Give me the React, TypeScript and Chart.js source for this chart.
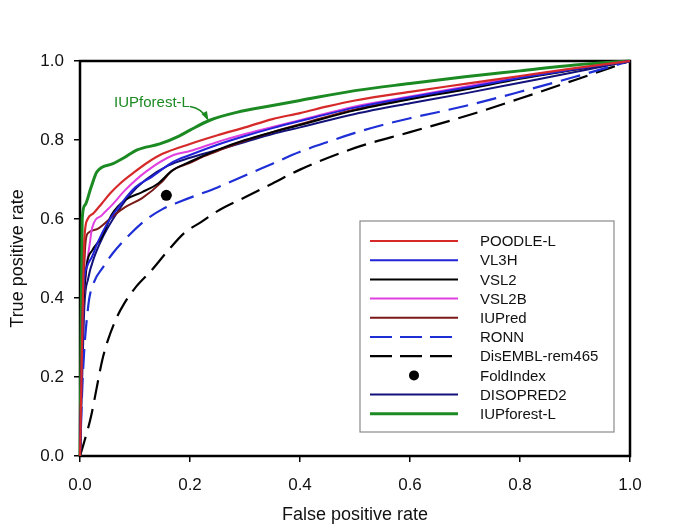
import React, { useEffect, useRef } from 'react';
import { Chart, registerables } from 'chart.js';
Chart.register(...registerables);

const X_TICKS = [0, 0.2, 0.4, 0.6, 0.8, 1.0];
const Y_TICKS = [0, 0.2, 0.4, 0.6, 0.8, 1.0];
const X_TITLE = 'False positive rate';
const Y_TITLE = 'True positive rate';
const ANNOTATION = 'IUPforest-L';

const SERIES_NAMES = ['POODLE-L', 'VL3H', 'VSL2', 'VSL2B', 'IUPred', 'RONN', 'DisEMBL-rem465', 'FoldIndex', 'DISOPRED2', 'IUPforest-L'];

const POODLE_L = [[0,0],[0.004,0.3],[0.008,0.55],[0.014,0.6],[0.025,0.615],[0.04,0.64],[0.055,0.665],[0.073,0.69],[0.1,0.72],[0.125,0.745],[0.15,0.765],[0.2,0.79],[0.25,0.812],[0.3,0.832],[0.35,0.853],[0.4,0.868],[0.45,0.885],[0.5,0.9],[0.6,0.922],[0.7,0.942],[0.8,0.962],[0.9,0.982],[1,1]];
const VL3H = [[0,0],[0.003,0.2],[0.006,0.41],[0.013,0.48],[0.022,0.505],[0.032,0.54],[0.05,0.59],[0.07,0.63],[0.1,0.68],[0.13,0.706],[0.17,0.745],[0.2,0.762],[0.25,0.788],[0.3,0.81],[0.35,0.83],[0.4,0.848],[0.5,0.882],[0.6,0.908],[0.7,0.932],[0.8,0.957],[0.9,0.979],[1,1]];
const VSL2 = [[0,0],[0.004,0.3],[0.012,0.48],[0.022,0.52],[0.04,0.555],[0.058,0.612],[0.082,0.648],[0.113,0.668],[0.142,0.69],[0.167,0.722],[0.2,0.745],[0.25,0.775],[0.3,0.8],[0.35,0.82],[0.4,0.838],[0.5,0.875],[0.6,0.903],[0.7,0.928],[0.8,0.955],[0.9,0.978],[1,1]];
const VSL2B = [[0,0],[0.004,0.3],[0.01,0.45],[0.018,0.54],[0.022,0.577],[0.04,0.61],[0.058,0.635],[0.082,0.673],[0.12,0.72],[0.17,0.762],[0.2,0.772],[0.25,0.795],[0.3,0.815],[0.35,0.833],[0.4,0.85],[0.5,0.885],[0.6,0.91],[0.7,0.935],[0.8,0.96],[0.9,0.98],[1,1]];
const IUPRED = [[0,0],[0.004,0.3],[0.01,0.54],[0.015,0.565],[0.032,0.575],[0.058,0.605],[0.082,0.63],[0.113,0.653],[0.149,0.694],[0.167,0.722],[0.2,0.742],[0.222,0.757],[0.25,0.772],[0.3,0.798],[0.35,0.82],[0.4,0.84],[0.5,0.877],[0.6,0.905],[0.7,0.931],[0.8,0.957],[0.9,0.979],[1,1]];
const RONN = [[0,0],[0.005,0.2],[0.015,0.38],[0.024,0.435],[0.042,0.478],[0.06,0.514],[0.09,0.56],[0.12,0.598],[0.15,0.625],[0.18,0.643],[0.25,0.68],[0.3,0.71],[0.35,0.74],[0.4,0.77],[0.45,0.795],[0.5,0.818],[0.55,0.838],[0.6,0.855],[0.7,0.886],[0.8,0.922],[0.9,0.96],[1,1]];
const DISEMBL = [[0,0],[0.005,0.023],[0.02,0.1],[0.03,0.17],[0.04,0.24],[0.05,0.29],[0.065,0.345],[0.08,0.385],[0.1,0.425],[0.13,0.47],[0.16,0.52],[0.19,0.565],[0.22,0.592],[0.25,0.62],[0.3,0.655],[0.35,0.69],[0.4,0.725],[0.5,0.78],[0.6,0.82],[0.7,0.86],[0.8,0.905],[0.9,0.952],[1,1]];
const FOLDINDEX = [[0.157,0.66]];
const DISOPRED2 = [[0,0],[0.004,0.2],[0.008,0.38],[0.015,0.45],[0.025,0.5],[0.04,0.55],[0.06,0.6],[0.09,0.66],[0.12,0.7],[0.16,0.735],[0.2,0.755],[0.25,0.775],[0.3,0.795],[0.35,0.815],[0.4,0.832],[0.5,0.866],[0.6,0.893],[0.7,0.918],[0.8,0.945],[0.9,0.972],[1,1]];
const IUPFOREST_L = [[0,0],[0.002,0.3],[0.004,0.6],[0.009,0.635],[0.02,0.68],[0.031,0.72],[0.06,0.74],[0.08,0.755],[0.104,0.775],[0.145,0.79],[0.18,0.81],[0.2,0.825],[0.236,0.85],[0.285,0.87],[0.345,0.886],[0.4,0.9],[0.5,0.925],[0.6,0.943],[0.7,0.96],[0.8,0.975],[0.9,0.99],[1,1]];

const SERIES_DATA = [POODLE_L, VL3H, VSL2, VSL2B, IUPRED, RONN, DISEMBL, FOLDINDEX, DISOPRED2, IUPFOREST_L];

const FONT = "'Liberation Sans', Arial, sans-serif";
const STYLES = [
  { color: '#d62a2a', width: 2.2, dash: [] },
  { color: '#2222d8', width: 2, dash: [] },
  { color: '#000000', width: 2, dash: [] },
  { color: '#e040e0', width: 2, dash: [] },
  { color: '#7a1818', width: 2, dash: [] },
  { color: '#1f2fd6', width: 2.2, dash: [20, 9] },
  { color: '#000000', width: 2.2, dash: [20, 9] },
  { color: '#000000', width: 0, dash: [], point: true },
  { color: '#12127a', width: 2, dash: [] },
  { color: '#1c8a22', width: 3, dash: [] },
];

const frameAndLegend = {
  id: 'frameAndLegend',
  beforeDatasetsDraw(chart: any) {
    const { ctx, chartArea: a } = chart;
    ctx.save();
    ctx.strokeStyle = '#000';
    ctx.lineWidth = 2.5;
    ctx.strokeRect(a.left, a.top, a.right - a.left, a.bottom - a.top);
    ctx.restore();
  },
  afterDatasetsDraw(chart: any) {
    const { ctx } = chart;
    const xs = chart.scales.x;
    const ys = chart.scales.y;
    ctx.save();
    const bx = 360, by = 221, bw = 254, bh = 211;
    ctx.fillStyle = '#fff';
    ctx.fillRect(bx, by, bw, bh);
    ctx.strokeStyle = '#8a8a8a';
    ctx.lineWidth = 1.2;
    ctx.strokeRect(bx, by, bw, bh);
    const rowH = 19.2;
    ctx.font = `15px ${FONT}`;
    ctx.textBaseline = 'middle';
    ctx.textAlign = 'left';
    chart.data.datasets.forEach((ds: any, i: number) => {
      const y = 241 + i * rowH;
      const st = STYLES[i];
      if (st.point) {
        ctx.fillStyle = st.color;
        ctx.beginPath();
        ctx.arc(414, y, 5, 0, Math.PI * 2);
        ctx.fill();
      } else {
        ctx.strokeStyle = st.color;
        ctx.lineWidth = st.width;
        ctx.setLineDash(st.dash.length ? [22, 8] : []);
        ctx.beginPath();
        ctx.moveTo(370, y);
        ctx.lineTo(st.dash.length ? 452 : 458, y);
        ctx.stroke();
        ctx.setLineDash([]);
      }
      ctx.fillStyle = '#111';
      ctx.fillText(ds.label, 480, y + 1);
    });
    const tx = xs.getPixelForValue(0.062);
    const ty = ys.getPixelForValue(0.894);
    ctx.fillStyle = '#1c8a22';
    ctx.font = `15px ${FONT}`;
    ctx.textBaseline = 'middle';
    ctx.fillText(ANNOTATION, tx, ty);
    const x0 = xs.getPixelForValue(0.2), y0 = ys.getPixelForValue(0.885);
    const x1 = xs.getPixelForValue(0.232), y1 = ys.getPixelForValue(0.853);
    ctx.strokeStyle = '#1c8a22';
    ctx.lineWidth = 1.6;
    ctx.beginPath();
    ctx.moveTo(x0, y0);
    ctx.quadraticCurveTo(x0 + 12, y0 + 2, x1, y1);
    ctx.stroke();
    const ang = Math.atan2(y1 - (y0 + 2), x1 - (x0 + 12));
    ctx.fillStyle = '#1c8a22';
    ctx.beginPath();
    ctx.moveTo(x1 + 2 * Math.cos(ang), y1 + 2 * Math.sin(ang));
    ctx.lineTo(x1 - 8 * Math.cos(ang - 0.4), y1 - 8 * Math.sin(ang - 0.4));
    ctx.lineTo(x1 - 8 * Math.cos(ang + 0.4), y1 - 8 * Math.sin(ang + 0.4));
    ctx.closePath();
    ctx.fill();
    ctx.restore();
  },
};

export default function App() {
  const ref = useRef<HTMLCanvasElement>(null);
  useEffect(() => {
    const canvas = ref.current!;
    const datasets = SERIES_DATA.map((pts, i) => {
      const st = STYLES[i];
      return {
        label: SERIES_NAMES[i],
        data: pts.map(([x, y]) => ({ x, y })),
        borderColor: st.color,
        backgroundColor: st.color,
        borderWidth: st.width,
        borderDash: st.dash,
        showLine: !st.point,
        pointRadius: st.point ? 5.5 : 0,
        pointHoverRadius: 0,
        cubicInterpolationMode: 'monotone' as const,
        fill: false,
        clip: 4,
      };
    });
    const chart = new Chart(canvas, {
      type: 'scatter',
      data: { datasets },
      options: {
        responsive: false,
        animation: false,
        events: [],
        layout: { padding: { left: 0, top: 61, right: 55, bottom: 0 } },
        plugins: { legend: { display: false }, tooltip: { enabled: false } },
        scales: {
          x: {
            type: 'linear', min: 0, max: 1,
            afterBuildTicks: (s: any) => { s.ticks = X_TICKS.map((v) => ({ value: v })); },
            afterFit: (s: any) => { s.height = 76; },
            ticks: { callback: (v: any) => Number(v).toFixed(1), font: { family: FONT, size: 17 }, color: '#111', padding: 13, maxRotation: 0 },
            grid: { drawOnChartArea: false, drawTicks: true, tickLength: 6, color: '#000', lineWidth: 1.5 },
            border: { display: false },
            title: { display: true, text: X_TITLE, font: { family: FONT, size: 18 }, color: '#111', padding: { top: 0, bottom: 6 } },
          },
          y: {
            type: 'linear', min: 0, max: 1,
            afterBuildTicks: (s: any) => { s.ticks = Y_TICKS.map((v) => ({ value: v })); },
            afterFit: (s: any) => { s.width = 80; },
            ticks: { callback: (v: any) => Number(v).toFixed(1), font: { family: FONT, size: 17 }, color: '#111', padding: 10 },
            grid: { drawOnChartArea: false, drawTicks: true, tickLength: 6, color: '#000', lineWidth: 1.5 },
            border: { display: false },
            title: { display: true, text: Y_TITLE, font: { family: FONT, size: 18 }, color: '#111', padding: { top: 7, bottom: 0 } },
          },
        },
      },
      plugins: [frameAndLegend],
    });
    return () => chart.destroy();
  }, []);
  return (
    <div style={{ position: 'absolute', left: 0, top: 0, width: 685, height: 532, background: '#fff' }}>
      <canvas ref={ref} width={685} height={532} />
    </div>
  );
}
